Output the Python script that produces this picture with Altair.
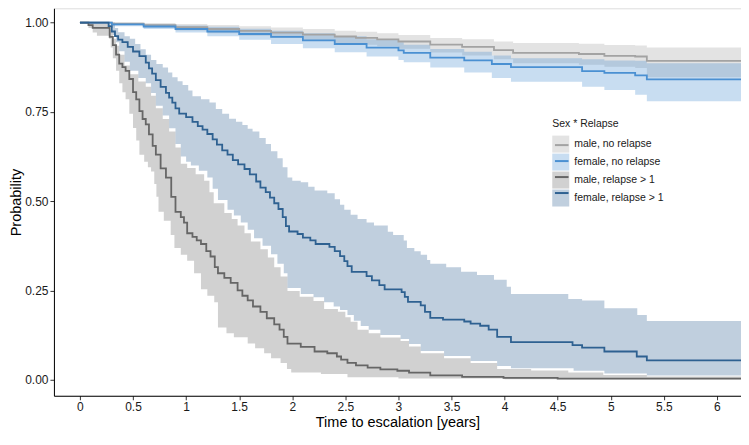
import altair as alt
import numpy as np
import pandas as pd

FONT = "Liberation Sans"
END_TIME = 6.31
GROUPS = ["male, no relapse", "female, no relapse", "male, relapse > 1", "female, relapse > 1"]
LINE_COLORS = ["#a3a3a3", "#4a90d2", "#666666", "#2e6191"]
X_TICKS = [0, 0.5, 1, 1.5, 2, 2.5, 3, 3.5, 4, 4.5, 5, 5.5, 6]
Y_TICKS = [0, 0.25, 0.5, 0.75, 1.0]

# male, no relapse
MN_T = [0, 0.3, 0.6, 0.9, 1.2, 1.5, 1.8, 2.1, 2.4, 2.6, 2.8, 3.0, 3.3, 3.6, 3.9, 4.08, 4.7, 4.94, 5.23, 5.34]
MN_S = [1.0, 0.997, 0.993, 0.987, 0.982, 0.977, 0.972, 0.966, 0.961, 0.957, 0.953, 0.947, 0.938, 0.932, 0.923, 0.915, 0.912, 0.907, 0.905, 0.893]
MN_U = [1.0, 1.0, 0.999, 0.996, 0.993, 0.99, 0.986, 0.982, 0.977, 0.974, 0.97, 0.965, 0.957, 0.953, 0.947, 0.943, 0.941, 0.937, 0.936, 0.93]
MN_L = [1.0, 0.993, 0.986, 0.978, 0.97, 0.963, 0.957, 0.949, 0.943, 0.938, 0.934, 0.927, 0.916, 0.908, 0.897, 0.886, 0.882, 0.876, 0.873, 0.847]

# female, no relapse
FN_T = [0, 0.3, 0.6, 0.9, 1.2, 1.5, 1.8, 2.1, 2.4, 2.7, 3.0, 3.05, 3.3, 3.62, 3.88, 4.06, 4.73, 4.94, 5.23, 5.34]
FN_S = [1.0, 0.995, 0.989, 0.982, 0.975, 0.968, 0.96, 0.95, 0.94, 0.93, 0.922, 0.915, 0.902, 0.894, 0.884, 0.875, 0.864, 0.859, 0.852, 0.841]
FN_U = [1.0, 0.999, 0.996, 0.992, 0.988, 0.983, 0.977, 0.97, 0.962, 0.953, 0.945, 0.938, 0.926, 0.918, 0.908, 0.9, 0.897, 0.894, 0.893, 0.886]
FN_L = [1.0, 0.99, 0.982, 0.972, 0.962, 0.952, 0.94, 0.928, 0.917, 0.905, 0.895, 0.889, 0.874, 0.86, 0.845, 0.834, 0.82, 0.811, 0.798, 0.78]

# male, relapse > 1
MR_T = [0, 0.08, 0.12, 0.28, 0.31, 0.34, 0.37, 0.40, 0.43, 0.465, 0.50, 0.53, 0.56, 0.59, 0.62, 0.65, 0.685, 0.715, 0.76, 0.81,
        0.86, 0.90, 0.95, 0.98, 1.01, 1.06, 1.10, 1.14, 1.19, 1.23, 1.27, 1.30, 1.36, 1.42, 1.485, 1.53, 1.58, 1.63, 1.70, 1.76,
        1.83, 1.88, 1.92, 1.955, 2.08, 2.21, 2.33, 2.42, 2.46, 2.52, 2.60, 2.71, 2.83, 2.99, 3.10, 3.30, 3.60, 3.99, 4.50]
MR_S = [1.0, 0.993, 0.985, 0.96, 0.937, 0.91, 0.885, 0.875, 0.865, 0.842, 0.805, 0.785, 0.752, 0.73, 0.715, 0.687, 0.655, 0.63, 0.592, 0.566,
        0.512, 0.47, 0.455, 0.44, 0.41, 0.40, 0.39, 0.38, 0.36, 0.345, 0.315, 0.298, 0.285, 0.271, 0.25, 0.235, 0.222, 0.205, 0.19, 0.172,
        0.155, 0.14, 0.12, 0.101, 0.092, 0.079, 0.074, 0.065, 0.056, 0.047, 0.04, 0.034, 0.029, 0.025, 0.02, 0.012, 0.008, 0.005, 0.003]
MRU_T = [0, 0.28, 0.31, 0.34, 0.37, 0.42, 0.47, 0.55, 0.62, 0.67, 0.715, 0.78, 0.84, 0.90, 0.95, 1.01, 1.09, 1.17, 1.22, 1.26,
         1.36, 1.43, 1.485, 1.55, 1.61, 1.70, 1.77, 1.83, 1.89, 1.955, 2.07, 2.20, 2.30, 2.43, 2.50, 2.55, 2.615, 2.72, 2.83, 3.02,
         3.10, 3.21, 3.43, 3.68, 3.93, 4.25, 4.60, 4.93, 5.34]
MRU = [1.0, 0.98, 0.955, 0.935, 0.91, 0.88, 0.855, 0.835, 0.82, 0.795, 0.76, 0.73, 0.695, 0.65, 0.605, 0.593, 0.575, 0.557, 0.525, 0.494,
       0.467, 0.45, 0.432, 0.41, 0.387, 0.365, 0.342, 0.315, 0.289, 0.248, 0.232, 0.22, 0.198, 0.19, 0.175, 0.162, 0.14, 0.13, 0.118, 0.108,
       0.093, 0.074, 0.06, 0.047, 0.03, 0.026, 0.02, 0.013, 0.009]
MRL_T = [0, 0.08, 0.12, 0.16, 0.275, 0.29, 0.31, 0.34, 0.37, 0.40, 0.43, 0.465, 0.50, 0.53, 0.56, 0.605, 0.64, 0.67, 0.70, 0.72,
         0.74, 0.79, 0.855, 0.89, 0.95, 1.01, 1.075, 1.14, 1.20, 1.265, 1.30, 1.38, 1.45, 1.58, 1.65, 1.735, 1.80, 1.89, 1.95, 1.99,
         2.27, 2.52, 3.00, 4.00]
MRL = [1.0, 0.985, 0.972, 0.963, 0.955, 0.93, 0.90, 0.865, 0.83, 0.805, 0.785, 0.745, 0.705, 0.67, 0.63, 0.61, 0.595, 0.583, 0.548, 0.512,
       0.47, 0.445, 0.405, 0.369, 0.35, 0.333, 0.298, 0.253, 0.235, 0.217, 0.146, 0.13, 0.119, 0.101, 0.088, 0.074, 0.06, 0.047, 0.03, 0.02,
       0.016, 0.007, 0.003, 0.001]

# female, relapse > 1
FR_T = [0, 0.27, 0.30, 0.33, 0.36, 0.40, 0.45, 0.50, 0.56, 0.62, 0.65, 0.68, 0.715, 0.76, 0.81, 0.84, 0.87, 0.90, 0.935, 1.00,
        1.06, 1.11, 1.155, 1.20, 1.25, 1.29, 1.34, 1.39, 1.44, 1.49, 1.55, 1.60, 1.66, 1.70, 1.75, 1.79, 1.83, 1.87, 1.91, 1.94,
        1.97, 2.05, 2.10, 2.17, 2.22, 2.35, 2.40, 2.45, 2.49, 2.52, 2.56, 2.70, 2.75, 2.82, 2.87, 3.03, 3.06, 3.09, 3.21, 3.25,
        3.30, 3.42, 3.62, 3.68, 3.77, 3.85, 3.93, 4.06, 4.64, 4.73, 4.94, 5.245, 5.34]
FR_S = [1.0, 0.99, 0.975, 0.962, 0.952, 0.945, 0.932, 0.919, 0.906, 0.888, 0.872, 0.857, 0.839, 0.82, 0.803, 0.79, 0.776, 0.76, 0.745, 0.735,
        0.722, 0.71, 0.70, 0.688, 0.673, 0.658, 0.642, 0.63, 0.615, 0.603, 0.59, 0.575, 0.555, 0.538, 0.525, 0.51, 0.494, 0.478, 0.455, 0.43,
        0.415, 0.408, 0.398, 0.39, 0.38, 0.372, 0.36, 0.346, 0.332, 0.318, 0.302, 0.29, 0.278, 0.265, 0.253, 0.245, 0.232, 0.218, 0.208, 0.19,
        0.173, 0.168, 0.163, 0.157, 0.151, 0.14, 0.12, 0.105, 0.097, 0.09, 0.079, 0.065, 0.054]
FRU_T = [0, 0.28, 0.33, 0.36, 0.42, 0.47, 0.52, 0.57, 0.62, 0.67, 0.72, 0.78, 0.83, 0.87, 0.92, 0.967, 1.02, 1.06, 1.14, 1.22,
         1.28, 1.34, 1.405, 1.47, 1.53, 1.58, 1.626, 1.69, 1.75, 1.80, 1.86, 1.91, 1.955, 2.00, 2.08, 2.15, 2.21, 2.33, 2.40, 2.45,
         2.49, 2.55, 2.615, 2.70, 2.77, 2.90, 2.95, 3.05, 3.08, 3.15, 3.21, 3.27, 3.30, 3.45, 3.59, 3.74, 3.90, 4.02, 4.06, 4.60,
         4.73, 4.94, 5.25, 5.34]
FRU = [1.0, 1.0, 0.985, 0.973, 0.962, 0.955, 0.94, 0.925, 0.91, 0.895, 0.884, 0.874, 0.86, 0.847, 0.836, 0.825, 0.81, 0.794, 0.785, 0.776,
       0.758, 0.745, 0.731, 0.722, 0.713, 0.703, 0.695, 0.677, 0.66, 0.64, 0.62, 0.595, 0.566, 0.557, 0.553, 0.54, 0.53, 0.522, 0.505, 0.49,
       0.476, 0.462, 0.45, 0.44, 0.432, 0.414, 0.405, 0.39, 0.369, 0.36, 0.35, 0.335, 0.325, 0.315, 0.302, 0.293, 0.28, 0.26, 0.24, 0.226,
       0.222, 0.20, 0.181, 0.164]
FRL_T = [0, 0.29, 0.31, 0.34, 0.37, 0.42, 0.47, 0.55, 0.62, 0.67, 0.715, 0.78, 0.84, 0.90, 0.95, 1.00, 1.045, 1.12, 1.20, 1.25,
         1.30, 1.39, 1.45, 1.515, 1.58, 1.64, 1.72, 1.80, 1.86, 1.92, 1.955, 2.08, 2.20, 2.30, 2.39, 2.45, 2.52, 2.58, 2.645, 2.72,
         2.83, 3.02, 3.10, 3.21, 3.43, 3.68, 3.93, 4.06, 4.65, 4.94, 5.34]
FRL = [1.0, 0.985, 0.965, 0.945, 0.92, 0.89, 0.865, 0.845, 0.83, 0.803, 0.767, 0.74, 0.704, 0.66, 0.625, 0.61, 0.60, 0.585, 0.566, 0.535,
       0.503, 0.476, 0.46, 0.44, 0.42, 0.396, 0.375, 0.351, 0.325, 0.298, 0.257, 0.24, 0.231, 0.217, 0.205, 0.195, 0.181, 0.165, 0.15, 0.14,
       0.125, 0.114, 0.10, 0.08, 0.066, 0.052, 0.038, 0.032, 0.025, 0.017, 0.012]

SERIES = [
    (GROUPS[0], MN_T, MN_S, MN_T, MN_U, MN_T, MN_L),
    (GROUPS[1], FN_T, FN_S, FN_T, FN_U, FN_T, FN_L),
    (GROUPS[2], MR_T, MR_S, MRU_T, MRU, MRL_T, MRL),
    (GROUPS[3], FR_T, FR_S, FRU_T, FRU, FRL_T, FRL),
]


def step_at(times, vals, t):
    idx = np.searchsorted(np.asarray(times), t, side="right") - 1
    return float(np.asarray(vals)[idx])


line_rows, band_rows = [], []
for name, t, s, ut, u, lt, lo in SERIES:
    for ti, si in zip(list(t) + [END_TIME], list(s) + [s[-1]]):
        line_rows.append({"t": ti, "s": si, "curve": name})
    grid = sorted(set(ut) | set(lt)) + [END_TIME]
    for g in grid:
        band_rows.append({"t": g, "hi": step_at(ut, u, g), "lo": step_at(lt, lo, g), "band": name})

lines_df = pd.DataFrame(line_rows)
bands_df = pd.DataFrame(band_rows)

PLOT_W, PLOT_H = 688, 388
X_DOM = [-0.245, 6.227]
Y_DOM = [-0.045, 1.04]
LX, LY = 499, 111
TITLE_FS, TITLE_PAD = 10.5, 6

x_scale = alt.Scale(domain=X_DOM, nice=False, zero=False)
y_scale = alt.Scale(domain=Y_DOM, nice=False, zero=False)

axis_common = dict(grid=False, domainColor="#000000", domainWidth=1, tickColor="#333333", tickWidth=1,
                   tickSize=4, labelFontSize=12, labelColor="#1a1a1a", labelFont=FONT, titleFont=FONT,
                   titleFontSize=14.5, titleFontWeight="normal", titleColor="#000000", labelPadding=2)
x_axis = alt.Axis(values=X_TICKS, format="~g", titlePadding=3, labelFlush=False, **axis_common)
y_axis = alt.Axis(values=Y_TICKS, format=".2f", titlePadding=1, **axis_common)

legend_common = dict(orient="none", legendX=LX, symbolSize=289, labelFontSize=10.5, labelFont=FONT,
                     labelColor="#1a1a1a", rowPadding=1, labelOffset=5, padding=0)

band = alt.Chart(bands_df).mark_area(interpolate="step-after", opacity=0.3, clip=True).encode(
    x=alt.X("t:Q", scale=x_scale, axis=x_axis, title="Time to escalation [years]"),
    y=alt.Y("hi:Q", scale=y_scale, axis=y_axis, title="Probability"),
    y2="lo:Q",
    fill=alt.Fill("band:N", sort=GROUPS, scale=alt.Scale(range=LINE_COLORS),
                  legend=alt.Legend(title="Sex * Relapse", legendY=LY, symbolType="square", symbolOpacity=0.3,
                                    symbolStrokeWidth=0, titleFontSize=TITLE_FS, titleFontWeight="normal",
                                    titleFont=FONT, titleColor="#1a1a1a", titlePadding=TITLE_PAD,
                                    **legend_common)),
)

line = alt.Chart(lines_df).mark_line(interpolate="step-after", strokeWidth=1.8, clip=True).encode(
    x=alt.X("t:Q", scale=x_scale),
    y=alt.Y("s:Q", scale=y_scale),
    stroke=alt.Stroke("curve:N", sort=GROUPS, scale=alt.Scale(range=LINE_COLORS),
                      legend=alt.Legend(title=None, legendY=LY + TITLE_FS + TITLE_PAD,
                                        symbolType="M-0.8,0L0.8,0", symbolStrokeWidth=2,
                                        labelExpr="''", **legend_common)),
)

chart = alt.layer(band, line).properties(width=PLOT_W, height=PLOT_H, padding=0).configure_view(
    stroke=None).configure(font=FONT)

chart.save("out.html", embed_options={"renderer": "svg", "actions": False})
